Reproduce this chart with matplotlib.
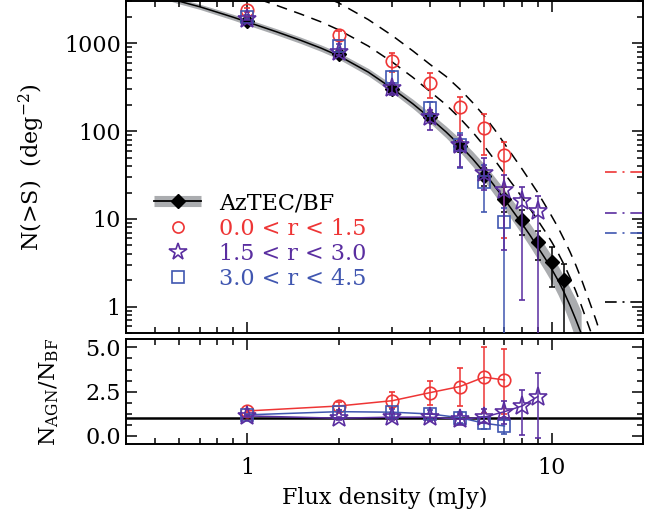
import numpy as np
import matplotlib
matplotlib.use("Agg")
import matplotlib.pyplot as plt
from matplotlib.lines import Line2D
from matplotlib.ticker import FuncFormatter, LogLocator, MultipleLocator, NullFormatter

plt.rcParams['font.family'] = ['DejaVu Serif']
plt.rcParams['mathtext.fontset'] = 'dejavuserif'

RED = '#ee3535'
PURPLE = '#5a2ea0'
BLUE = '#4056b0'
GRAY = '#aaacaf'

# --- cumulative counts (top panel) ---
flux_bf = [1, 2, 3, 4, 5, 6, 7, 8, 9, 10, 11]
n_bf = [1780, 760, 300, 143, 68, 31, 17, 9.7, 5.5, 3.25, 2.0]
n_bf_lo = [60, 40, 25, 15, 10, 7, 5, 3.2, 2.1, 1.55, 1.99]
n_bf_hi = [60, 40, 25, 15, 10, 7, 6, 2.8, 1.8, 1.5, 1.05]

flux_r1 = [1, 2, 3, 4, 5, 6, 7]
n_r1 = [2390, 1230, 634, 356, 187, 108, 53.5]
n_r1_lo = [120, 150, 163, 118, 108, 55, 47.5]
n_r1_hi = [120, 150, 148, 99, 60, 49, 22]

flux_r2 = [1, 2, 3, 4, 5, 6, 7, 8, 9]
n_r2 = [1900, 790, 307, 146, 70, 33, 21.3, 16, 12.3]
n_r2_lo = [80, 50, 50, 43, 31, 11.5, 16.9, 14.8, 12.25]
n_r2_hi = [80, 50, 43, 28, 20, 16, 10.3, 7.3, 5.9]

flux_r3 = [1, 2, 3, 4, 5, 6, 7]
n_r3 = [1990, 930, 417, 182, 70, 26.5, 9.3]
n_r3_lo = [90, 60, 60, 35, 32, 14.4, 9.26]
n_r3_hi = [90, 60, 70, 30, 24, 14.5, 3.9]

# best-fit curve and its uncertainty band (half width in dex)
fit_s = [0.55, 0.6, 0.7, 0.8, 0.9, 1.0, 1.25, 1.5, 1.75, 2.0, 2.5, 3.0, 3.5, 4.0, 4.5,
         5.0, 5.5, 6.0, 6.5, 7.0, 7.5, 8.0, 8.5, 9.0, 9.5, 10.0, 10.5, 11.0, 11.5,
         12.0, 12.5, 13.0]
fit_n = [3300, 3000, 2600, 2250, 1980, 1750, 1350, 1080, 880, 720, 470, 305, 205, 140, 98,
         69, 48.5, 34, 23.7, 16.8, 12.0, 8.8, 6.5, 4.8, 3.6, 2.7, 2.0, 1.45, 1.03,
         0.72, 0.5, 0.34]
fit_band = [0.03, 0.03, 0.03, 0.032, 0.033, 0.034, 0.035, 0.036, 0.037, 0.038, 0.042, 0.046,
            0.052, 0.058, 0.066, 0.075, 0.085, 0.095, 0.103, 0.11, 0.117, 0.123, 0.13, 0.137,
            0.144, 0.15, 0.165, 0.18, 0.2, 0.23, 0.25, 0.26]

# dashed model curves
dash1_s = [1.1, 1.25, 1.5, 1.75, 2.0, 2.5, 3.0, 3.5, 4.0, 4.5, 5.0, 5.5, 6.0, 6.5, 7.0,
           7.5, 8.0, 8.5, 9.0, 9.5, 10.0, 10.5, 11.0, 11.5, 12.0, 12.5, 13.0, 13.5, 14.0]
dash1_n = [3150, 2700, 2150, 1750, 1420, 930, 610, 410, 280, 200, 140, 98, 68, 47, 33,
           24, 17.6, 13.0, 9.7, 7.3, 5.5, 4.1, 3.0, 2.15, 1.52, 1.05, 0.72, 0.5, 0.34]
dash2_s = [1.9, 2.0, 2.5, 3.0, 3.5, 4.0, 4.5, 5.0, 5.5, 6.0, 6.5, 7.0, 7.5, 8.0, 8.5, 9.0,
           9.5, 10.0, 10.5, 11.0, 11.5, 12.0, 12.5, 13.0, 13.5, 14.0, 14.5, 15.0]
dash2_n = [3100, 2880, 1860, 1220, 820, 570, 420, 300, 212, 150, 104, 72, 51, 37, 27, 20,
           14.6, 10.8, 8.0, 5.8, 4.2, 3.0, 2.1, 1.44, 1.0, 0.7, 0.48, 0.33]

# one-source levels on the right
limit_n = [34, 11.6, 6.9, 1.15]
limit_colors = [RED, PURPLE, BLUE, 'black']

# --- ratio to blank field (bottom panel) ---
ratio_r1 = [1.41, 1.69, 1.99, 2.45, 2.79, 3.32, 3.16]
ratio_r1_lo = [0.1, 0.2, 0.44, 0.7, 1.1, 2.0, 1.9]
ratio_r1_hi = [0.1, 0.2, 0.47, 0.67, 1.05, 1.73, 1.73]
ratio_r2 = [1.13, 1.0, 1.06, 1.06, 0.94, 1.06, 1.37, 1.69, 2.22]
ratio_r2_lo = [0.06, 0.08, 0.15, 0.2, 0.3, 0.35, 0.7, 1.64, 2.35]
ratio_r2_hi = [0.06, 0.08, 0.15, 0.2, 0.3, 0.45, 0.63, 0.91, 1.32]
ratio_r3 = [1.19, 1.37, 1.34, 1.24, 1.03, 0.72, 0.56]
ratio_r3_err = [0.06, 0.1, 0.2, 0.25, 0.3, 0.35, 0.45]

labels = ['AzTEC/BF', '0.0 < r < 1.5', '1.5 < r < 3.0', '3.0 < r < 4.5']

fig = plt.figure(figsize=(6.67, 5.22), dpi=100)
ax1 = fig.add_axes([0.1885, 0.3615, 0.776, 0.636])
ax2 = fig.add_axes([0.1885, 0.149, 0.776, 0.201])

ebkw = dict(capsize=2.5, elinewidth=1.1, capthick=1.1, linestyle='none')

# top panel
fs = np.array(fit_s)
fn = np.array(fit_n)
fb = np.array(fit_band)
ax1.fill_between(fs[:-1], fn[:-1] * 10**(-fb[:-1]), fn[:-1] * 10**fb[:-1],
                 color=GRAY, lw=0, zorder=1)
ax1.plot(fs, fn, color='black', lw=1.1, zorder=2)
ax1.plot(dash1_s, dash1_n, color='black', lw=1.1, dashes=(7, 5), zorder=2)
ax1.plot(dash2_s, dash2_n, color='black', lw=1.1, dashes=(7, 5), zorder=2)

ax1.errorbar(flux_bf, n_bf, yerr=[n_bf_lo, n_bf_hi], color='black', marker='D',
             ms=7, **ebkw, zorder=3)
ax1.errorbar(flux_r1, n_r1, yerr=[n_r1_lo, n_r1_hi], color=RED, marker='o', ms=9,
             mfc='none', mew=1.2, **ebkw, zorder=4)
ax1.errorbar(flux_r3, n_r3, yerr=[n_r3_lo, n_r3_hi], color=BLUE, marker='s', ms=9,
             mfc='none', mew=1.2, **ebkw, zorder=4)
ax1.errorbar(flux_r2, n_r2, yerr=[n_r2_lo, n_r2_hi], color=PURPLE, marker='*', ms=14,
             mfc='none', mew=1.2, **ebkw, zorder=5)

for lv, c in zip(limit_n, limit_colors):
    ax1.plot([15, 20], [lv, lv], color=c, lw=1.2, dashes=(7, 3.5, 1.2, 3.5))

ax1.set_xscale('log')
ax1.set_yscale('log')
ax1.set_xlim(0.4, 20)
ax1.set_ylim(0.5, 3000)
ax1.set_ylabel('N(>S)  (deg$^{-2}$)', fontsize=16)
ax1.yaxis.set_label_coords(-0.152, 0.5)
ax1.yaxis.set_major_formatter(FuncFormatter(lambda v, p: f'{v:g}'))
ax1.xaxis.set_major_formatter(NullFormatter())
ax1.xaxis.set_minor_formatter(NullFormatter())
ax1.yaxis.set_minor_formatter(NullFormatter())

h_bf = (Line2D([], [], color=GRAY, lw=8, solid_capstyle='butt'),
        Line2D([], [], color='black', lw=1.3, marker='D', ms=7))
h_r1 = Line2D([], [], color=RED, marker='o', ms=8, mfc='none', mew=1.2, ls='none')
h_r2 = Line2D([], [], color=PURPLE, marker='*', ms=13, mfc='none', mew=1.2, ls='none')
h_r3 = Line2D([], [], color=BLUE, marker='s', ms=8, mfc='none', mew=1.2, ls='none')
ax1.legend([h_bf, h_r1, h_r2, h_r3], labels, loc='upper left',
           bbox_to_anchor=(0.055, 0.425), frameon=False, fontsize=16,
           labelcolor=['black', RED, PURPLE, BLUE], handlelength=2.1,
           handletextpad=0.8, labelspacing=0.15, borderpad=0, borderaxespad=0)

# bottom panel
ax2.axhline(1.0, color='black', lw=1.8, zorder=1)
ax2.errorbar(flux_r1, ratio_r1, yerr=[ratio_r1_lo, ratio_r1_hi], color=RED, marker='o',
             ms=9, mfc='none', mew=1.2, capsize=2.5, elinewidth=1.1, capthick=1.1,
             lw=1.1, zorder=3)
ax2.errorbar(flux_r3, ratio_r3, yerr=ratio_r3_err, color=BLUE, marker='s', ms=9,
             mfc='none', mew=1.2, capsize=2.5, elinewidth=1.1, capthick=1.1, lw=1.1,
             zorder=3)
ax2.errorbar(flux_r2, ratio_r2, yerr=[ratio_r2_lo, ratio_r2_hi], color=PURPLE, marker='*',
             ms=14, mfc='none', mew=1.2, capsize=2.5, elinewidth=1.1, capthick=1.1,
             lw=1.1, zorder=4)
ax2.set_xscale('log')
ax2.set_xlim(0.4, 20)
ax2.set_ylim(-0.47, 5.46)
ax2.yaxis.set_major_locator(MultipleLocator(2.5))
ax2.yaxis.set_minor_locator(MultipleLocator(0.625))
ax2.yaxis.set_major_formatter(FuncFormatter(lambda v, p: f'{v:.1f}'))
ax2.xaxis.set_major_formatter(FuncFormatter(lambda v, p: f'{v:g}'))
ax2.xaxis.set_minor_formatter(NullFormatter())
ax2.set_xlabel('Flux density (mJy)', fontsize=16, labelpad=6)
ax2.set_ylabel(r'N$_{\mathrm{AGN}}$/N$_{\mathrm{BF}}$', fontsize=16)
ax2.yaxis.set_label_coords(-0.125, 0.5)

for ax in (ax1, ax2):
    ax.tick_params(which='both', direction='in', top=True, right=True, labelsize=16,
                   width=1.1)
    ax.tick_params(which='major', length=8)
    ax.tick_params(which='minor', length=4)
    ax.xaxis.set_minor_locator(LogLocator(base=10, subs=np.arange(2, 10)))
    for sp in ax.spines.values():
        sp.set_linewidth(1.4)
ax1.yaxis.set_minor_locator(LogLocator(base=10, subs=np.arange(2, 10)))
ax2.tick_params(axis='x', which='major', pad=9)

fig.savefig('out.png', dpi=100)
